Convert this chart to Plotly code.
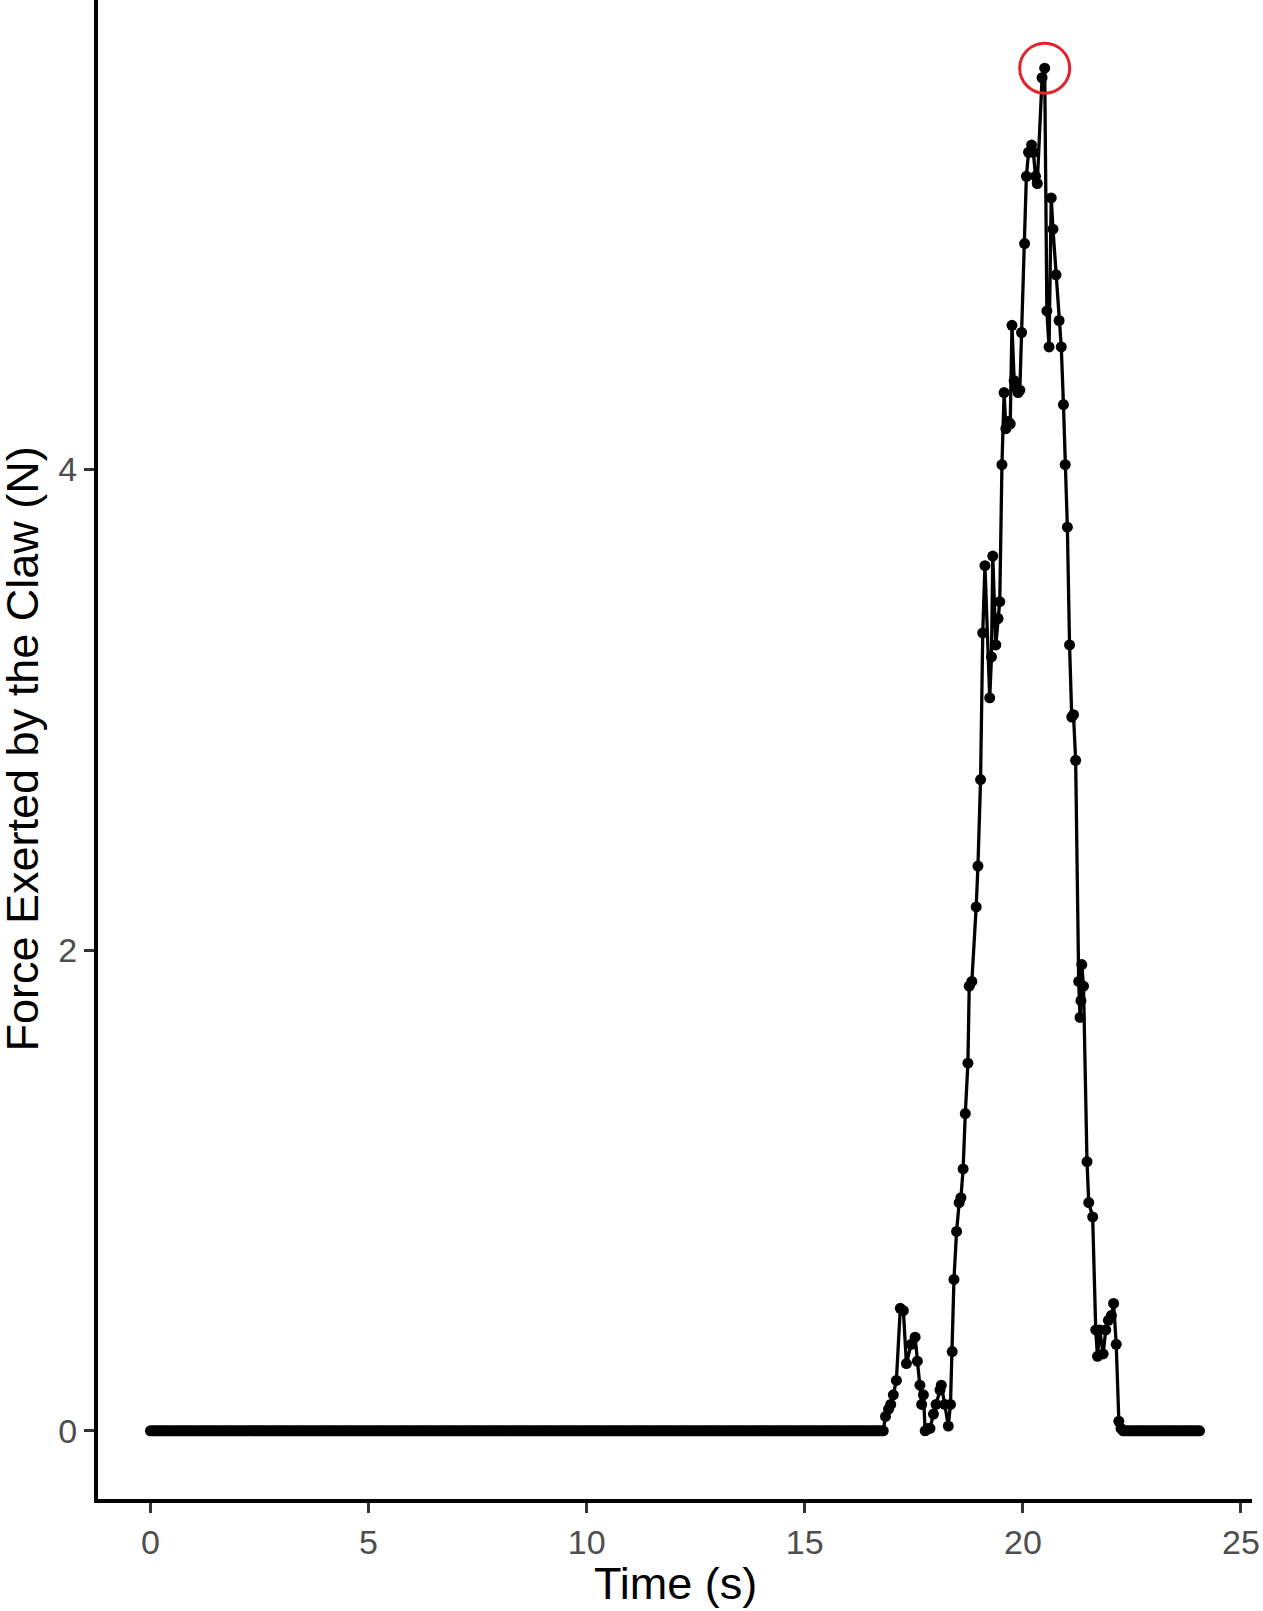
import numpy as np
import plotly.graph_objects as go

# ---- data ----
SAMPLE_INTERVAL = 0.05          # s, regular sampling of the resting segments
rest_before = (0.0, 16.80)      # claw at rest, force 0
rest_after = (22.30, 24.05)     # claw at rest, force 0

active_time = [16.85, 16.92, 16.97, 17.03, 17.10, 17.19, 17.26, 17.33, 17.44, 17.53,
               17.58, 17.64, 17.68, 17.72, 17.76, 17.82, 17.87, 17.95, 18.01, 18.10,
               18.13, 18.21, 18.29, 18.34, 18.38, 18.42, 18.48, 18.54, 18.58, 18.63,
               18.68, 18.74, 18.77, 18.83, 18.93, 18.97, 19.03, 19.08, 19.13, 19.24,
               19.28, 19.31, 19.38, 19.43, 19.47, 19.52, 19.57, 19.61, 19.66, 19.71,
               19.75, 19.80, 19.85, 19.89, 19.93, 19.97, 20.04, 20.08, 20.13, 20.20,
               20.24, 20.29, 20.33, 20.44, 20.50, 20.55, 20.60, 20.65, 20.69, 20.76,
               20.83, 20.88, 20.93, 20.97, 21.02, 21.07, 21.12, 21.16, 21.21, 21.28,
               21.31, 21.33, 21.35, 21.39, 21.47, 21.51, 21.60, 21.67, 21.71, 21.76,
               21.84, 21.90, 21.96, 22.03, 22.08, 22.14, 22.20, 22.25]
active_force = [0.06, 0.09, 0.11, 0.15, 0.21, 0.51, 0.50, 0.28, 0.36, 0.39,
                0.29, 0.19, 0.11, 0.15, 0.00, 0.01, 0.01, 0.07, 0.11, 0.17,
                0.19, 0.11, 0.02, 0.11, 0.33, 0.63, 0.83, 0.95, 0.97, 1.09,
                1.32, 1.53, 1.85, 1.87, 2.18, 2.35, 2.71, 3.32, 3.60, 3.05,
                3.22, 3.64, 3.27, 3.38, 3.45, 4.02, 4.32, 4.17, 4.20, 4.19,
                4.60, 4.37, 4.34, 4.32, 4.33, 4.57, 4.94, 5.22, 5.32, 5.35,
                5.32, 5.22, 5.19, 5.63, 5.67, 4.66, 4.51, 5.13, 5.00, 4.81,
                4.62, 4.51, 4.27, 4.02, 3.76, 3.27, 2.97, 2.98, 2.79, 1.87,
                1.72, 1.79, 1.94, 1.85, 1.12, 0.95, 0.89, 0.42, 0.31, 0.42,
                0.32, 0.42, 0.46, 0.48, 0.53, 0.36, 0.04, 0.01]

x_ticks = [0, 5, 10, 15, 20, 25]
y_ticks = [0, 2, 4]
x_title = "Time (s)"
y_title = "Force Exerted by the Claw (N)"

# ---- assemble series ----
t_before = np.round(np.arange(rest_before[0], rest_before[1] + 1e-9, SAMPLE_INTERVAL), 3)
t_after = np.round(np.arange(rest_after[0], rest_after[1] + 1e-9, SAMPLE_INTERVAL), 3)
time = np.concatenate([t_before, np.array(active_time), t_after])
force = np.concatenate([np.zeros(len(t_before)), np.array(active_force), np.zeros(len(t_after))])

imax = int(np.argmax(force))

FONT = "Liberation Sans, Arial, Helvetica, sans-serif"

fig = go.Figure()
fig.add_trace(go.Scatter(
    x=time, y=force, mode="lines+markers",
    line=dict(color="black", width=3.3),
    marker=dict(color="black", size=11),
    showlegend=False, hoverinfo="x+y"))
fig.add_trace(go.Scatter(
    x=[time[imax]], y=[force[imax]], mode="markers",
    marker=dict(symbol="circle-open", size=50, color="#E3242B", line=dict(color="#E3242B", width=3)),
    showlegend=False))

xmin, xmax = float(time.min()), float(time.max())
ymin, ymax = float(force.min()), float(force.max())
xpad = 0.05 * (xmax - xmin)
ypad = 0.05 * (ymax - ymin)

axis_common = dict(
    showline=True, linecolor="black", linewidth=4, mirror=False,
    ticks="outside", ticklen=10, tickwidth=3, tickcolor="#333333",
    tickfont=dict(family=FONT, size=34, color="#4D4D4D"),
    showgrid=False, zeroline=False)

fig.update_layout(
    width=1263, height=1611,
    margin=dict(l=98, r=11, t=0, b=112),
    paper_bgcolor="white", plot_bgcolor="white",
    font=dict(family=FONT, color="black"),
    xaxis=dict(range=[xmin - xpad, xmax + xpad], tickvals=x_ticks, ticktext=[str(v) for v in x_ticks], **axis_common),
    yaxis=dict(range=[ymin - ypad, ymax + ypad], tickvals=y_ticks, ticktext=[str(v) for v in y_ticks], **axis_common),
    annotations=[
        dict(text=x_title, x=0.5, y=0, xref="paper", yref="paper",
             xanchor="center", yanchor="middle", yshift=-84, showarrow=False,
             font=dict(family=FONT, size=45, color="black")),
        dict(text=y_title, x=0, y=0.5, xref="paper", yref="paper", textangle=-90,
             xanchor="center", yanchor="middle", xshift=-76, showarrow=False,
             font=dict(family=FONT, size=45, color="black")),
    ],
)

fig.write_html(
    "out.html",
    config={"displayModeBar": False},
    post_script="document.body.style.margin='0';document.body.style.padding='0';"
                "document.documentElement.style.overflow='hidden';",
)
